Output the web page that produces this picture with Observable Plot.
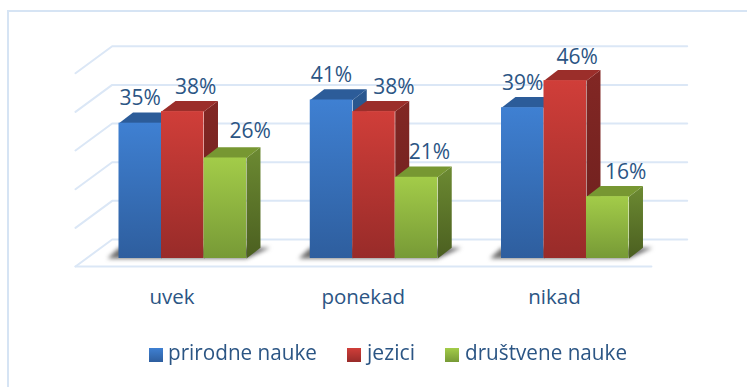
<!DOCTYPE html>
<html><head><meta charset="utf-8">
<script src="https://cdn.jsdelivr.net/npm/d3@7"></script>
<script src="https://cdn.jsdelivr.net/npm/@observablehq/plot@0.6"></script>
<style>
html,body{margin:0;padding:0;background:#fff;overflow:hidden}
#wrap{position:relative;width:747px;height:387px;font-family:"Open Sans",sans-serif;color:#2b5584;overflow:hidden}
#box{position:absolute;left:7px;top:10px;width:760px;height:400px;border:2px solid #d6e4f4;box-sizing:border-box}
#chart{position:absolute;left:0;top:0}
#legend{position:absolute;left:0;top:341px;width:747px;height:26px;font-size:21px}
.sw{position:absolute;top:7px;width:14px;height:14px}
.lb{position:absolute;top:-3px;white-space:nowrap;transform-origin:left center}
</style></head>
<body><div id="wrap"><div id="box"></div><div id="chart"></div><div id="legend"></div></div>
<script>
const categories = ["uvek", "ponekad", "nikad"];
const seriesNames = ["prirodne nauke", "jezici", "društvene nauke"];
const prirodne = [35, 41, 39];
const jezici = [38, 38, 46];
const drustvene = [26, 21, 16];
const gridValues = [0, 10, 20, 30, 40, 50];

// layout
const seriesValues = [prirodne, jezici, drustvene];
const barW = 0.2222, depthX = 0.0732, depthY = 2.77;
const wallBack = {x1: -0.0356, x2: 2.971, dy: 4.91};
const wallFront = {x1: -0.2275, x2: 2.784, dy: -2.07};
const labelNudge = [[0, 13, 25], [0, 20, 13], [0, 12, 18]];
const labelLift = [[18, 18, 20], [18, 18, 18], [18, 17, 18]];
const faces = [
  {front: "gBlue", top: "#2c5c99", side: "url(#sBlue)"},
  {front: "gRed", top: "#9b2e2a", side: "url(#sRed)"},
  {front: "gGreen", top: "#779732", side: "url(#sGreen)"}
];

const grad = (id, a, b) => `<linearGradient id="${id}" x1="0" y1="0" x2="0" y2="1"><stop offset="0" stop-color="${a}"/><stop offset="1" stop-color="${b}"/></linearGradient>`;
const defs = () => {
  const g = document.createElementNS("http://www.w3.org/2000/svg", "g");
  g.innerHTML = `<defs>${grad("gBlue", "#3f80d2", "#2e5e9e")}${grad("gRed", "#d03e39", "#982b29")}${grad("gGreen", "#a3cc49", "#779a36")}${grad("sBlue", "#2a5890", "#234a7a")}${grad("sRed", "#822724", "#6c1f1d")}${grad("sGreen", "#6c8a32", "#4b5f20")}</defs>`;
  return g;
};

const poly = (pts, fill, extra = {}) => Plot.line(pts, {x: "x", y: "y", fill, stroke: "none", curve: "linear-closed", ...extra});

const marks = [defs];
// back wall and floor gridlines
const gridColor = "#dbe7f6";
for (const v of gridValues) {
  marks.push(Plot.line([
    {x: wallFront.x1, y: v + wallFront.dy},
    {x: wallBack.x1, y: v + wallBack.dy},
    {x: wallBack.x2, y: v + wallBack.dy}
  ], {x: "x", y: "y", stroke: gridColor, strokeWidth: 2}));
}
marks.push(Plot.line([
  {x: wallFront.x1, y: wallFront.dy},
  {x: wallFront.x2, y: wallFront.dy}
], {x: "x", y: "y", stroke: gridColor, strokeWidth: 2}));

categories.forEach((c, i) => {
  const L = i, R = i + 3 * barW;
  marks.push(poly([
    {x: L - 0.06, y: 0}, {x: R, y: 0},
    {x: R + depthX + 0.05, y: depthY}, {x: L, y: depthY}
  ], "#4a4a4a", {imageFilter: "blur(2px)", fillOpacity: 0.8}));
  seriesValues.forEach((vals, j) => {
    const v = vals[i], a = i + j * barW, b = a + barW, f = faces[j];
    marks.push(poly([
      {x: b, y: 0}, {x: b + depthX, y: depthY},
      {x: b + depthX, y: v + depthY}, {x: b, y: v}
    ], f.side));
    marks.push(poly([
      {x: a, y: v}, {x: b, y: v},
      {x: b + depthX, y: v + depthY}, {x: a + depthX, y: v + depthY}
    ], f.top));
    marks.push(Plot.rect([{a, b, v}], {x1: "a", x2: "b", y1: 0, y2: "v", fill: `url(#${f.front})`, stroke: "none"}));
  });
});
categories.forEach((c, i) => {
  seriesValues.forEach((vals, j) => {
    marks.push(Plot.text([{x: i + j * barW + barW / 2, y: vals[i], t: vals[i] + "%"}], {
      x: "x", y: "y", text: "t", dx: labelNudge[i][j], dy: -labelLift[i][j],
      lineAnchor: "bottom", textAnchor: "middle", fontSize: 21, fill: "#2b5584",
      fontFamily: "'Open Sans',sans-serif"
    }));
  });
});
marks.push(Plot.text(categories.map((c, i) => ({x: i + 0.277, c})), {
  x: "x", y: () => 0, text: "c", dy: 45, lineAnchor: "bottom", textAnchor: "middle",
  fontSize: 20.5, fill: "#2b5584", fontFamily: "'Open Sans',sans-serif"
}));

const plot = Plot.plot({
  width: 747, height: 387, margin: 0,
  style: {background: "transparent", overflow: "visible"},
  x: {type: "linear", domain: [0, 3], range: [118.5, 692.25], axis: null},
  y: {type: "linear", domain: [0, 50], range: [258, 64.7], axis: null},
  marks
});
document.getElementById("chart").append(plot);

const legend = document.getElementById("legend");
const swLeft = [149, 347, 445], lbLeft = [168, 367, 465], lbW = [149, 48, 162];
const swGrad = ["#3f80d2,#2e5e9e", "#d03e39,#982b29", "#a3cc49,#779a36"];
seriesNames.forEach((n, j) => {
  const s = document.createElement("div"); s.className = "sw";
  s.style.left = swLeft[j] + "px"; s.style.background = `linear-gradient(${swGrad[j]})`;
  const l = document.createElement("div"); l.className = "lb";
  l.style.left = lbLeft[j] + "px"; l.textContent = n;
  legend.append(s, l);
  const w = l.getBoundingClientRect().width;
  l.style.transform = `scaleX(${lbW[j] / w})`;
});
</script></body></html>
